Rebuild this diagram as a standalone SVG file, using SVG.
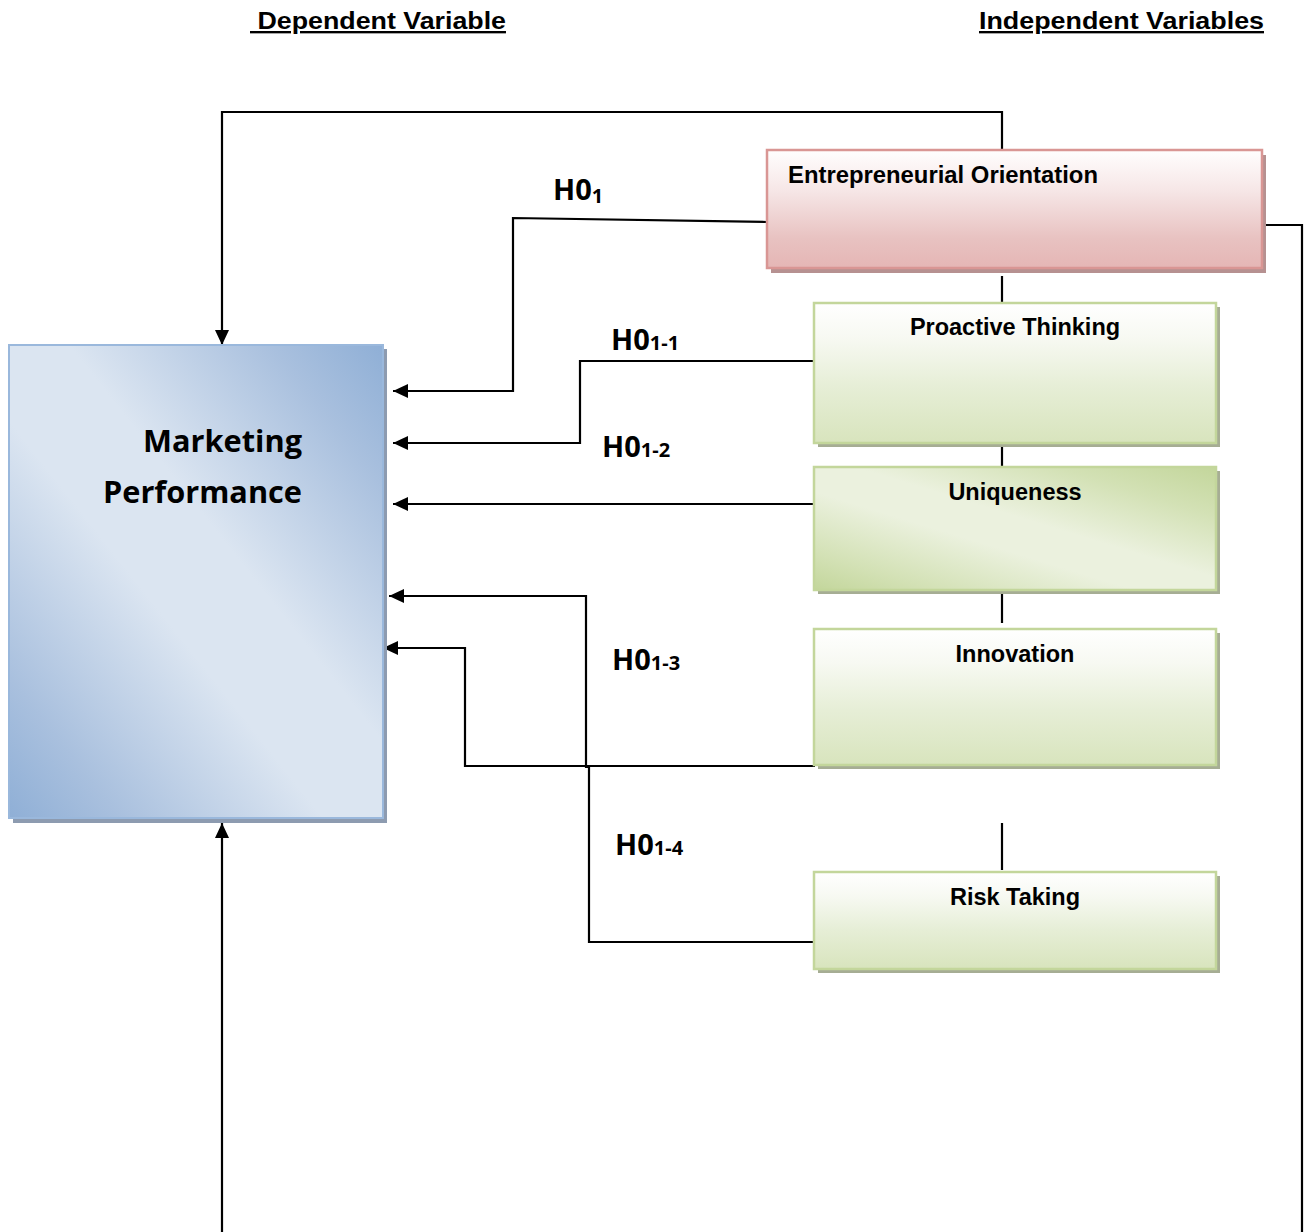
<svg xmlns="http://www.w3.org/2000/svg" width="1306" height="1232" viewBox="0 0 1306 1232">
<style>
.title{font-family:"Liberation Sans",Arial,sans-serif;font-weight:bold;font-size:23.5px;fill:#000;text-decoration:underline;}
.box{font-family:"Liberation Sans",Arial,sans-serif;font-weight:bold;font-size:23.5px;fill:#000;}
.big{font-family:"Open Sans","Liberation Sans",sans-serif;font-weight:bold;font-size:30px;fill:#000;}
.hyp{font-family:"Open Sans","Liberation Sans",sans-serif;font-weight:bold;font-size:29px;fill:#000;}
.sub{font-size:20px;}
.conn{fill:none;stroke:#000;stroke-width:2.2;}
.arr{marker-end:url(#ah);}
.green{stroke:#c3d69b;stroke-width:2.5;}
.gshadow{fill:#a6ad94;}
</style>
<defs>
<marker id="ah" markerUnits="userSpaceOnUse" markerWidth="16" markerHeight="16" viewBox="0 0 16 16" refX="15" refY="8" orient="auto">
<path d="M0,1 L15,8 L0,15 Z" fill="#000"/>
</marker>
<linearGradient id="gBlue" x1="1" y1="0" x2="0" y2="1">
<stop offset="0" stop-color="#8fafd6"/>
<stop offset="0.15" stop-color="#a9c0de"/>
<stop offset="0.42" stop-color="#dbe5f1"/>
<stop offset="0.58" stop-color="#dbe5f1"/>
<stop offset="0.85" stop-color="#a9c0de"/>
<stop offset="1" stop-color="#8fafd6"/>
</linearGradient>
<linearGradient id="gRed" x1="0" y1="0" x2="0" y2="1">
<stop offset="0" stop-color="#fffefe"/>
<stop offset="0.35" stop-color="#f6e6e6"/>
<stop offset="0.75" stop-color="#e8c2c1"/>
<stop offset="1" stop-color="#e5b6b5"/>
</linearGradient>
<linearGradient id="gGreen" x1="0" y1="0" x2="0" y2="1">
<stop offset="0" stop-color="#ffffff"/>
<stop offset="0.25" stop-color="#f7f9f2"/>
<stop offset="0.6" stop-color="#e6eed6"/>
<stop offset="1" stop-color="#d8e4bd"/>
</linearGradient>
<linearGradient id="gGreenDiag" x1="1" y1="0" x2="0" y2="1">
<stop offset="0" stop-color="#c3d69b"/>
<stop offset="0.2" stop-color="#d3e1b5"/>
<stop offset="0.45" stop-color="#ebf1de"/>
<stop offset="0.6" stop-color="#ebf1de"/>
<stop offset="0.85" stop-color="#d3e1b5"/>
<stop offset="1" stop-color="#c3d69b"/>
</linearGradient>
</defs>

<g id="titles">
<text class="title" x="250" y="29" xml:space="preserve" textLength="256" lengthAdjust="spacingAndGlyphs"> Dependent Variable</text>
<text class="title" x="979" y="29" textLength="285" lengthAdjust="spacingAndGlyphs">Independent Variables</text>
</g>

<g id="connectors">
<path class="conn arr" d="M1002,157 V112 H222 V345"/>
<path class="conn arr" d="M767,222 L513,218 V391 H393"/>
<path class="conn arr" d="M815,361 H580 V443 H393"/>
<path class="conn arr" d="M822,504 H393"/>
<path class="conn arr" d="M822,942 H589 V767 H586 V596 H389"/>
<path class="conn arr" d="M815,766 H465 V648 H383"/>
<path class="conn" d="M1262,225 H1302 V1232"/>
<path class="conn arr" d="M222,1232 V823"/>
<path class="conn" d="M1002,276 V305"/>
<path class="conn" d="M1002,437 V467"/>
<path class="conn" d="M1002,590 V623"/>
<path class="conn" d="M1002,823 V870"/>
</g>

<g id="marketing-performance">
<rect x="13" y="349" width="374" height="474" fill="#8d9bb0"/>
<rect x="9" y="345" width="374" height="473" fill="url(#gBlue)" stroke="#9ab8dc" stroke-width="2"/>
<text class="big" x="302" y="452" text-anchor="end" textLength="159" lengthAdjust="spacingAndGlyphs">Marketing</text>
<text class="big" x="302" y="503" text-anchor="end" textLength="199" lengthAdjust="spacingAndGlyphs">Performance</text>
</g>

<g id="entrepreneurial-orientation">
<rect x="771" y="155" width="495" height="118" fill="#b69191"/>
<rect x="767" y="150" width="495" height="118" fill="url(#gRed)" stroke="#d99694" stroke-width="2.5"/>
<text class="box" x="788" y="183" textLength="310" lengthAdjust="spacingAndGlyphs">Entrepreneurial Orientation</text>
</g>

<g id="proactive-thinking">
<rect class="gshadow" x="818" y="307" width="402" height="140"/>
<rect class="green" x="814" y="303" width="402" height="140" fill="url(#gGreen)"/>
<text class="box" x="1015" y="335" text-anchor="middle">Proactive Thinking</text>
</g>

<g id="uniqueness">
<rect class="gshadow" x="818" y="471" width="402" height="123"/>
<rect class="green" x="814" y="467" width="402" height="123" fill="url(#gGreenDiag)"/>
<text class="box" x="1015" y="500" text-anchor="middle">Uniqueness</text>
</g>

<g id="innovation">
<rect class="gshadow" x="818" y="633" width="402" height="136"/>
<rect class="green" x="814" y="629" width="402" height="136" fill="url(#gGreen)"/>
<text class="box" x="1015" y="662" text-anchor="middle">Innovation</text>
</g>

<g id="risk-taking">
<rect class="gshadow" x="818" y="876" width="402" height="97"/>
<rect class="green" x="814" y="872" width="402" height="97" fill="url(#gGreen)"/>
<text class="box" x="1015" y="905" text-anchor="middle">Risk Taking</text>
</g>

<g id="hypotheses">
<text class="hyp" x="553" y="200">H0<tspan class="sub" dy="3">1</tspan></text>
<text class="hyp" x="611" y="350">H0<tspan class="sub" dy="0">1-1</tspan></text>
<text class="hyp" x="602" y="457">H0<tspan class="sub" dy="0">1-2</tspan></text>
<text class="hyp" x="612" y="670">H0<tspan class="sub" dy="0">1-3</tspan></text>
<text class="hyp" x="615" y="855">H0<tspan class="sub" dy="0">1-4</tspan></text>
</g>
</svg>
